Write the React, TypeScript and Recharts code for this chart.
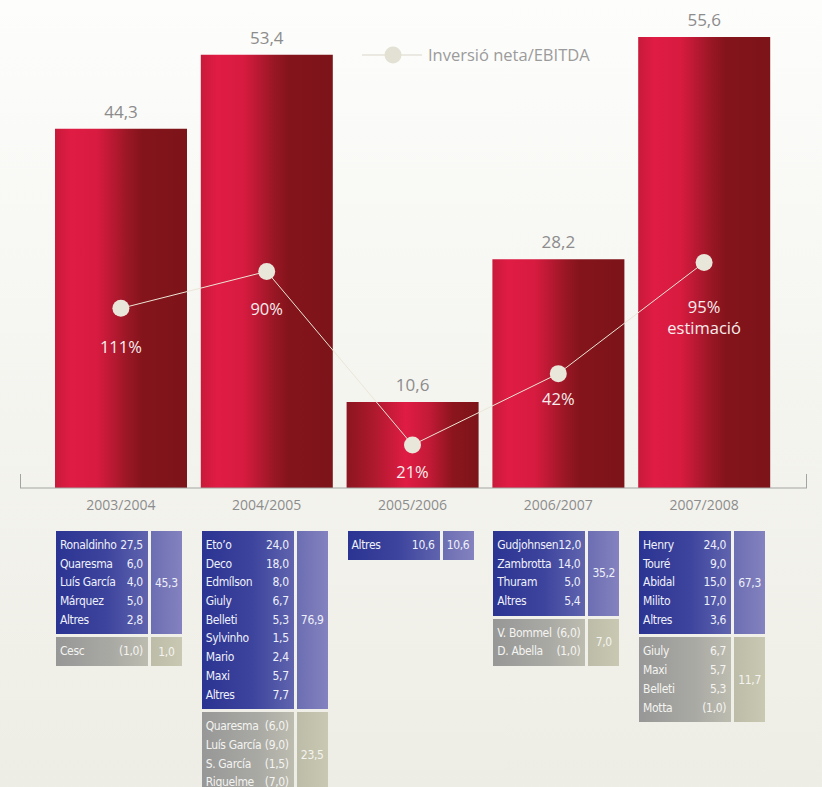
import React from 'react';
import { ComposedChart, Bar, Line, XAxis, YAxis, Cell, LabelList, usePlotArea } from 'recharts';

const seasons = ['2003/2004', '2004/2005', '2005/2006', '2006/2007', '2007/2008'];
const netInvestment = [44.3, 53.4, 10.6, 28.2, 55.6];
const ratioEbitda = [111, 90, 21, 42, 95];
const ratioNote = ['', '', '', '', 'estimació'];

// altes = fitxatges (blau), baixes = vendes (gris); negatiu = entre parèntesis
const altes0304: [string, number][] = [['Ronaldinho', 27.5], ['Quaresma', 6.0], ['Luís García', 4.0], ['Márquez', 5.0], ['Altres', 2.8]];
const baixes0304: [string, number][] = [['Cesc', -1.0]];
const altes0405: [string, number][] = [['Eto’o', 24.0], ['Deco', 18.0], ['Edmílson', 8.0], ['Giuly', 6.7], ['Belleti', 5.3], ['Sylvinho', 1.5], ['Mario', 2.4], ['Maxi', 5.7], ['Altres', 7.7]];
const baixes0405: [string, number][] = [['Quaresma', -6.0], ['Luís García', -9.0], ['S. García', -1.5], ['Riquelme', -7.0]];
const altes0506: [string, number][] = [['Altres', 10.6]];
const baixes0506: [string, number][] = [];
const altes0607: [string, number][] = [['Gudjohnsen', 12.0], ['Zambrotta', 14.0], ['Thuram', 5.0], ['Altres', 5.4]];
const baixes0607: [string, number][] = [['V. Bommel', -6.0], ['D. Abella', -1.0]];
const altes0708: [string, number][] = [['Henry', 24.0], ['Touré', 9.0], ['Abidal', 15.0], ['Milito', 17.0], ['Altres', 3.6]];
const baixes0708: [string, number][] = [['Giuly', 6.7], ['Maxi', 5.7], ['Belleti', 5.3], ['Motta', -1.0]];
const altesTotal = [45.3, 76.9, 10.6, 35.2, 67.3];
const baixesTotal: (number | null)[] = [1.0, 23.5, null, 7.0, 11.7];

const altes = [altes0304, altes0405, altes0506, altes0607, altes0708];
const baixes = [baixes0304, baixes0405, baixes0506, baixes0607, baixes0708];

// the marker sits at half height of each bar, as in the original
const data = seasons.map((season, i) => ({
  season,
  net: netInvestment[i],
  markerLevel: netInvestment[i] / 2,
  ratio: ratioEbitda[i],
  note: ratioNote[i],
}));

const LABEL_DY = [38, 37, 26, 25, 44];
const FONT = '"Open Sans", "Noto Sans", sans-serif';
const NARROW = '"DejaVu Sans Condensed", "Liberation Sans Narrow", sans-serif';

const fmt = (v: number) => {
  const s = Math.abs(v).toFixed(1).replace('.', ',');
  return v < 0 ? `(${s})` : s;
};

function Block({ rows, total, blue }: { rows: [string, number][]; total: number; blue: boolean }) {
  return (
    <div style={{ display: 'flex', gap: 3 }}>
      <div
        style={{
          width: 92,
          boxSizing: 'border-box',
          padding: '5px 5px 5px 4px',
          background: blue
            ? 'linear-gradient(90deg, #2b3492 0%, #3d449d 55%, #6064ae 100%)'
            : 'linear-gradient(90deg, #979797 0%, #a9a9a4 60%, #bdbcb0 100%)',
        }}
      >
        {rows.map(([name, v]) => (
          <div
            key={name}
            style={{ display: 'flex', justifyContent: 'space-between', height: 18.7, lineHeight: '18.7px', whiteSpace: 'nowrap' }}
          >
            <span>{name}</span>
            <span>{fmt(v)}</span>
          </div>
        ))}
      </div>
      <div
        style={{
          width: 31,
          display: 'flex',
          alignItems: 'center',
          justifyContent: 'center',
          background: blue ? 'linear-gradient(90deg, #6c6eb3, #8482bf)' : 'linear-gradient(90deg, #bdbca8, #c9c8b2)',
        }}
      >
        {fmt(total)}
      </div>
    </div>
  );
}

function SeasonTick(props: any) {
  const { x, y, payload, index } = props;
  const i = typeof index === 'number' ? index : seasons.indexOf(payload.value);
  const b = baixes[i];
  return (
    <g>
      <text x={x} y={y + 14} textAnchor="middle" fill="#8c8c8c" fontSize={14} fontFamily={FONT}>
        {payload.value}
      </text>
      <foreignObject x={x - 65} y={y + 35} width={130} height={300}>
        <div style={{ fontFamily: NARROW, fontSize: 12, letterSpacing: '-0.35px', color: '#eef0f8', width: 126 }}>
          <Block rows={altes[i]} total={altesTotal[i]} blue />
          {b.length > 0 && (
            <div style={{ marginTop: 3, color: '#f4f4f0' }}>
              <Block rows={b} total={baixesTotal[i] as number} blue={false} />
            </div>
          )}
        </div>
      </foreignObject>
    </g>
  );
}

function AxisEnds() {
  const area = usePlotArea();
  if (!area) return null;
  const yb = area.y + area.height;
  return (
    <g stroke="#a3a3a3" strokeWidth={1}>
      <line x1={area.x + 0.5} x2={area.x + 0.5} y1={yb - 14} y2={yb} />
      <line x1={area.x + area.width - 0.5} x2={area.x + area.width - 0.5} y1={yb - 14} y2={yb} />
    </g>
  );
}

function RatioLabel(props: any) {
  const { x, y, index, value } = props;
  const i = typeof index === 'number' ? index : ratioEbitda.indexOf(value);
  const dy = LABEL_DY[i] ?? 30;
  return (
    <g>
      <text x={x} y={y + dy} textAnchor="middle" dominantBaseline="central" fill="#f7eeee" fontSize={16.5} fontFamily={FONT}>
        {`${ratioEbitda[i]}%`}
      </text>
      {ratioNote[i] && (
        <text x={x} y={y + dy + 21} textAnchor="middle" dominantBaseline="central" fill="#f7eeee" fontSize={16.5} fontFamily={FONT}>
          {ratioNote[i]}
        </text>
      )}
    </g>
  );
}

export default function App() {
  return (
    <div
      style={{
        position: 'absolute',
        left: 0,
        top: 0,
        width: 822,
        height: 787,
        overflow: 'hidden',
        background: 'linear-gradient(180deg, #fdfdfc 0%, #f6f6f2 40%, #eeede5 100%)',
      }}
    >
      <ComposedChart width={822} height={787} data={data} margin={{ top: 37, right: 15, bottom: 0, left: 20 }}>
        <defs>
          <linearGradient id="barRed" x1="0" y1="0" x2="1" y2="0">
            <stop offset="0%" stopColor="#c81a3a" />
            <stop offset="12%" stopColor="#e01c44" />
            <stop offset="32%" stopColor="#d81b40" />
            <stop offset="55%" stopColor="#9a1725" />
            <stop offset="66%" stopColor="#84141b" />
            <stop offset="100%" stopColor="#7c1419" />
          </linearGradient>
          <linearGradient id="barRedMid" x1="0" y1="0" x2="1" y2="0">
            <stop offset="0%" stopColor="#8c1520" />
            <stop offset="18%" stopColor="#a8192b" />
            <stop offset="45%" stopColor="#e01c44" />
            <stop offset="62%" stopColor="#c41a38" />
            <stop offset="80%" stopColor="#8c151d" />
            <stop offset="100%" stopColor="#7c1419" />
          </linearGradient>
        </defs>
        <XAxis
          dataKey="season"
          height={299}
          padding={{ left: 28, right: 30 }}
          tickLine={false}
          axisLine={{ stroke: '#a3a3a3' }}
          interval={0}
          tick={<SeasonTick />}
        />
        <YAxis hide domain={[0, 'dataMax']} />
        <Bar dataKey="net" barSize={132} isAnimationActive={false}>
          {data.map((d, i) => (
            <Cell key={d.season} fill={i === 2 ? 'url(#barRedMid)' : 'url(#barRed)'} />
          ))}
          <LabelList
            dataKey="net"
            position="top"
            offset={11}
            formatter={(v: any) => fmt(Number(v))}
            fill="#8c8c8c"
            fontSize={17}
            fontFamily={FONT}
          />
        </Bar>
        <Line
          dataKey="markerLevel"
          stroke="#ebe6d6"
          strokeWidth={1}
          dot={{ r: 8.5, fill: '#e8e7da', stroke: 'none' }}
          activeDot={false}
          isAnimationActive={false}
        >
          <LabelList dataKey="ratio" content={<RatioLabel />} />
        </Line>
        <AxisEnds />
      </ComposedChart>
      <div style={{ position: 'absolute', left: 360, top: 43, display: 'flex', alignItems: 'center' }}>
        <svg width={64} height={22}>
          <line x1={2} x2={62} y1={11} y2={11} stroke="#d9d6c8" strokeWidth={1} />
          <circle cx={33} cy={11} r={8.5} fill="#e2e1d3" />
        </svg>
        <span style={{ marginLeft: 4, fontFamily: FONT, fontSize: 16.5, color: '#9b9b9b' }}>Inversió neta/EBITDA</span>
      </div>
    </div>
  );
}
